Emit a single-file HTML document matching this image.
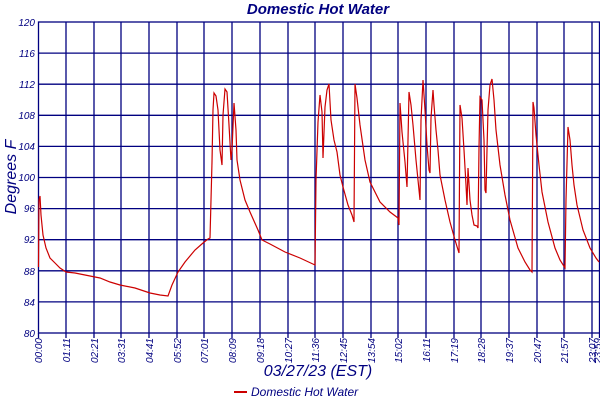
<!DOCTYPE html>
<html><head><meta charset="utf-8"><style>
body{margin:0;background:#fff;}
svg text{font-family:"Liberation Sans",sans-serif;fill:#000080;font-style:italic;}
</style></head><body>
<svg width="600" height="400" xmlns="http://www.w3.org/2000/svg">
<rect width="600" height="400" fill="#fff"/>
<text x="318" y="14" font-size="15" font-weight="bold" text-anchor="middle">Domestic Hot Water</text>
<g stroke="#000080" stroke-width="1.3" fill="none">
<rect x="38.5" y="22" width="561" height="311"/>
<path d="M38.5 53.1H599.5M38.5 84.2H599.5M38.5 115.3H599.5M38.5 146.4H599.5M38.5 177.5H599.5M38.5 208.6H599.5M38.5 239.7H599.5M38.5 270.8H599.5M38.5 301.9H599.5"/>
<path d="M66 22V338M94 22V338M121 22V338M149 22V338M177 22V338M204 22V338M232 22V338M260 22V338M288 22V338M315 22V338M343 22V338M371 22V338M398 22V338M426 22V338M454 22V338M481 22V338M509 22V338M537 22V338M564 22V338M592 22V338M38.5 333V338M599.5 333V338"/>
</g>
<g font-size="10" text-anchor="end">
<text x="35" y="26">120</text><text x="35" y="57">116</text><text x="35" y="88">112</text><text x="35" y="119">108</text><text x="35" y="150">104</text><text x="35" y="181">100</text><text x="35" y="212">96</text><text x="35" y="243">92</text><text x="35" y="275">88</text><text x="35" y="306">84</text><text x="35" y="337">80</text>
</g>
<g font-size="10" text-anchor="end">
<text transform="translate(42,338) rotate(-90)">00:00</text>
<text transform="translate(70,338) rotate(-90)">01:11</text>
<text transform="translate(98,338) rotate(-90)">02:21</text>
<text transform="translate(125,338) rotate(-90)">03:31</text>
<text transform="translate(153,338) rotate(-90)">04:41</text>
<text transform="translate(181,338) rotate(-90)">05:52</text>
<text transform="translate(208,338) rotate(-90)">07:01</text>
<text transform="translate(236,338) rotate(-90)">08:09</text>
<text transform="translate(264,338) rotate(-90)">09:18</text>
<text transform="translate(292,338) rotate(-90)">10:27</text>
<text transform="translate(319,338) rotate(-90)">11:36</text>
<text transform="translate(347,338) rotate(-90)">12:45</text>
<text transform="translate(375,338) rotate(-90)">13:54</text>
<text transform="translate(402,338) rotate(-90)">15:02</text>
<text transform="translate(430,338) rotate(-90)">16:11</text>
<text transform="translate(458,338) rotate(-90)">17:19</text>
<text transform="translate(485,338) rotate(-90)">18:28</text>
<text transform="translate(513,338) rotate(-90)">19:37</text>
<text transform="translate(541,338) rotate(-90)">20:47</text>
<text transform="translate(568,338) rotate(-90)">21:57</text>
<text transform="translate(596,338) rotate(-90)">23:07</text>
<text transform="translate(601,338) rotate(-90)">23:59</text>
</g>
<text x="318" y="376" font-size="16" text-anchor="middle">03/27/23 (EST)</text>
<text transform="translate(16,177) rotate(-90)" font-size="16" text-anchor="middle">Degrees F</text>
<polyline fill="none" stroke="#cc0000" stroke-width="1.2" points="38.5,267 39,200 40,196 41,215 43,235 46,248 50,258 55,263 60,268 66,272 75,273 85,275 100,278 110,282 120,285 135,288 150,293 160,295 168,296 172,285 178,272 185,262 195,250 203,243 208,239 210,238 211,200 212,162 213,110 214,93 216,96 218,110 220,150 222,165 223,115 225,89 227,92 229,125 231,160 232,150 234,103 236,130 237,160 240,180 245,200 250,212 258,230 262,240 270,244 285,252 300,258 315,265 316,180 318,122 320,95 322,112 323,158 325,107 327,90 329,84 331,120 334,140 337,152 340,175 343,187 348,205 352,215 354,222 355,84 357,98 360,125 365,160 370,182 380,202 390,212 398,218 399,225 400,103 402,132 405,162 407,187 408,140 409,92 411,105 413,125 416,160 419,190 420,200 421,120 423,80 425,110 427,145 429,170 430,173 431,118 433,90 434,105 436,130 438,150 440,175 445,200 450,222 455,240 459,253 460,105 462,118 464,150 466,185 467,205 468,168 470,200 472,215 474,225 477,226 478,228 479,148 480,97 482,100 484,140 485,190 486,193 487,150 488,110 490,85 492,79 494,100 496,130 500,165 505,195 510,220 518,248 525,262 530,270 532,272 533,102 534,108 536,135 539,165 542,192 548,222 555,248 560,260 565,268 566,200 568,127 570,140 572,165 574,185 577,205 583,230 590,248 596,258 599,262"/>
<line x1="234" y1="392" x2="247" y2="392" stroke="#cc0000" stroke-width="2"/>
<text x="251" y="396" font-size="12">Domestic Hot Water</text>
</svg>
</body></html>
